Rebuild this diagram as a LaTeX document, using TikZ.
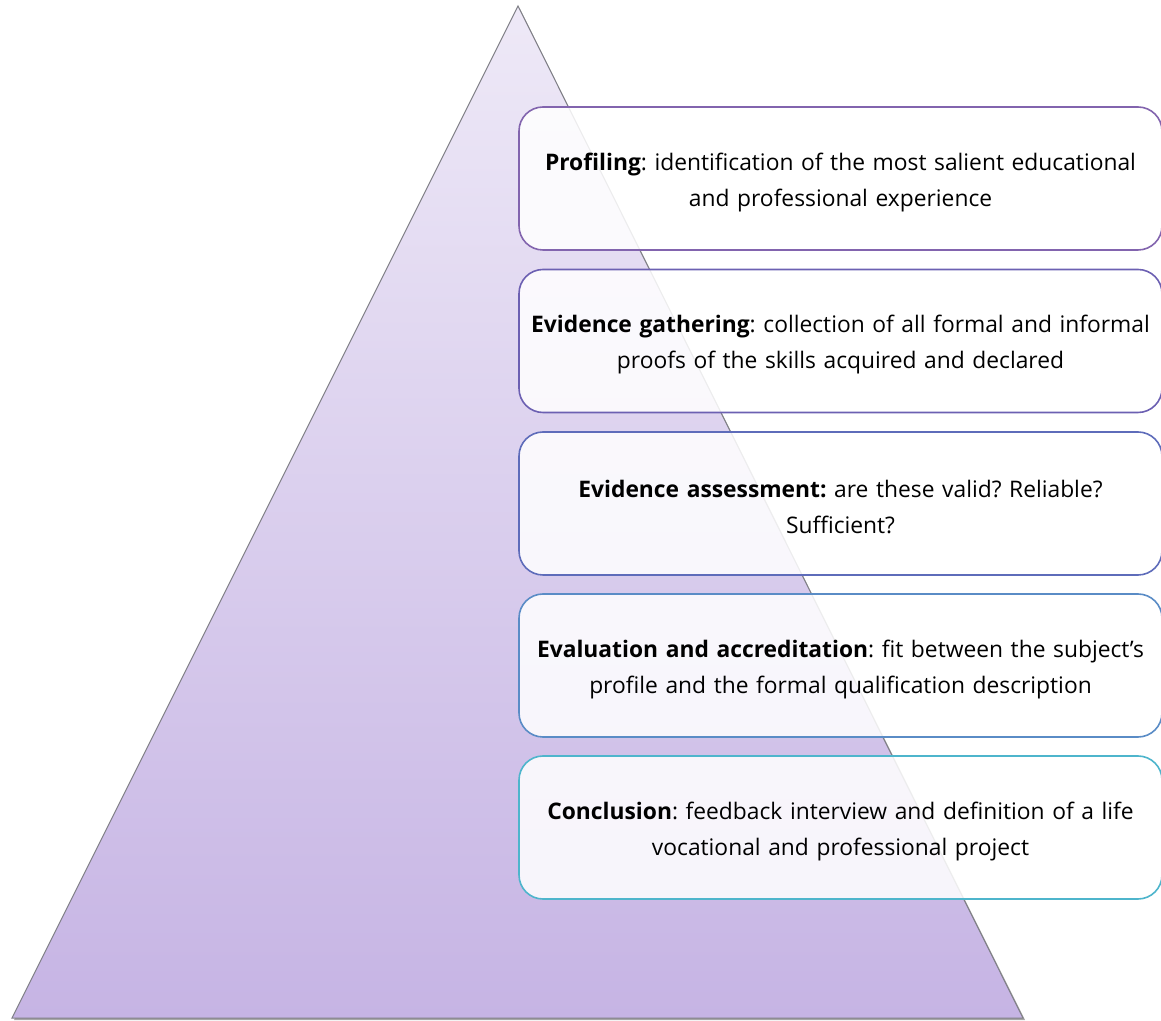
\documentclass[tikz,border=0pt]{standalone}
\usepackage{fontspec}
\setmainfont{Open Sans}
\definecolor{tritop}{HTML}{EEE9F7}
\definecolor{tribot}{HTML}{C6B4E4}
\definecolor{triedge}{HTML}{7F7F86}
\definecolor{cA}{HTML}{8264AE}
\definecolor{cB}{HTML}{6C60B2}
\definecolor{cC}{HTML}{5E6CBA}
\definecolor{cD}{HTML}{5A8CC6}
\definecolor{cE}{HTML}{4EB5CC}
\tikzset{
  stagebox/.style={draw=#1, line width=1.6pt, rounded corners=24pt,
    fill=white, fill opacity=0.86,
    minimum width=643pt, minimum height=143pt, inner sep=0pt},
  stagetext/.style={text width=641pt, align=center, inner sep=0pt,
    font=\fontsize{22.8}{36}\selectfont\frenchspacing},
}
\begin{document}
\begin{tikzpicture}[x=1pt,y=1pt]
\useasboundingbox (0,0) rectangle (1161,1020);
% pyramid
\coordinate (apex) at (518,1014);
\coordinate (bl) at (12,2);
\coordinate (br) at (1023,2);
\path[fill=black!35] (519.5,1012) -- (14,0) -- (1025,0) -- cycle;
\shade[top color=tritop, bottom color=tribot, draw=triedge, line width=1pt]
  (apex) -- (bl) -- (br) -- cycle;
% stage frames
\node[stagebox=cA] (s1) at (840.5,841.5) {};
\node[stagebox=cB] (s2) at (840.5,679) {};
\node[stagebox=cC] (s3) at (840.5,516.5) {};
\node[stagebox=cD] (s4) at (840.5,354.5) {};
\node[stagebox=cE] (s5) at (840.5,192.5) {};
% stage descriptions
\node[stagetext] (t1) at ([yshift=-4pt]s1.center)
  {\textbf{Profiling}: identification of the most salient educational\\ and professional experience};
\node[stagetext] (t2) at ([yshift=-4pt]s2.center)
  {\textbf{Evidence gathering}: collection of all formal and informal\\ proofs of the skills acquired and declared};
\node[stagetext] (t3) at ([yshift=-4pt]s3.center)
  {\textbf{Evidence assessment:} are these valid? Reliable?\\ Sufficient?};
\node[stagetext] (t4) at ([yshift=-4pt]s4.center)
  {\textbf{Evaluation and accreditation}: fit between the subject’s\\ profile and the formal qualification description};
\node[stagetext] (t5) at ([yshift=-4pt]s5.center)
  {\textbf{Conclusion}: feedback interview and definition of a life\\ vocational and professional project};
\end{tikzpicture}
\end{document}
